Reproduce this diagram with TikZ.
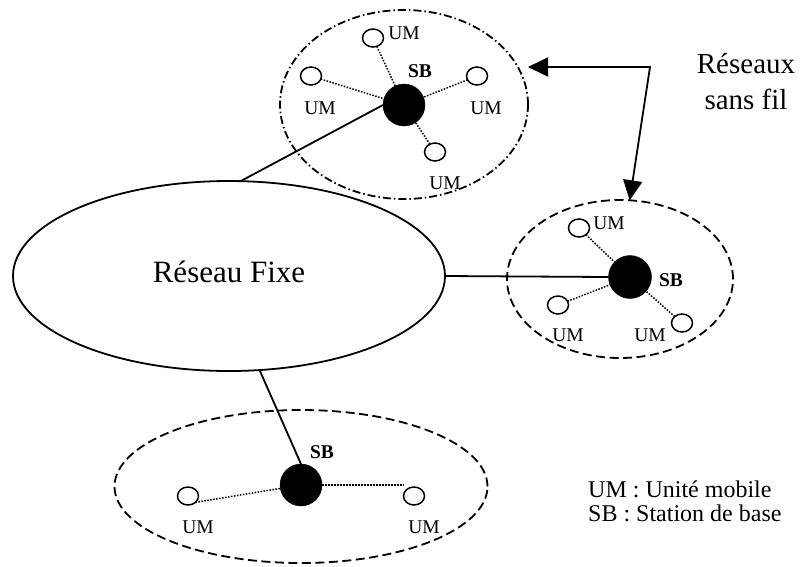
\documentclass[tikz,border=0pt]{standalone}
\usepackage{fontspec}
\setmainfont{Liberation Serif}
\usetikzlibrary{arrows.meta,shapes.geometric}
\begin{document}
\begin{tikzpicture}[x=1pt,y=-1pt,
  net/.style={ellipse, draw, line width=1.8pt, inner sep=0pt, outer sep=0pt},
  cell/.style={ellipse, draw, line width=1.8pt, dash pattern=on 9pt off 4.5pt, inner sep=0pt, outer sep=0pt},
  cellalt/.style={cell, dash pattern=on 8pt off 3pt on 1.5pt off 3pt},
  station/.style={circle, fill=black, draw=black, minimum size=42pt, inner sep=0pt, outer sep=0pt},
  mobile/.style={ellipse, draw, line width=1.5pt, minimum width=21pt, minimum height=18pt, inner sep=0pt, outer sep=0pt},
  lbl/.style={font=\fontsize{19.5}{23}\selectfont, inner sep=0pt},
  sblbl/.style={font=\fontsize{19.5}{23}\selectfont\bfseries, inner sep=0pt},
  wired/.style={line width=1.8pt},
  radio/.style={line width=1.5pt, dash pattern=on 1.5pt off 1.5pt},
  pointer/.style={line width=1.8pt, {Triangle[length=20pt,width=19pt]}-{Triangle[length=20pt,width=19pt]}}
]
\useasboundingbox (0,0) rectangle (805,566);

% fixed network
\node[net, minimum width=432pt, minimum height=190pt] (fixe) at (229,276) {};
\node[font=\fontsize{31}{36}\selectfont, anchor=base, inner sep=0pt] (fixelbl) at (229,282) {Réseau Fixe};

% upper cell
\node[cellalt, minimum width=248pt, minimum height=189pt] (ct) at (404,104.5) {};
\node[station] (sbt) at (404,105) {};
\node[mobile] (umt1) at (373,38) {};
\node[mobile] (umt2) at (311,76) {};
\node[mobile] (umt3) at (477,76) {};
\node[mobile] (umt4) at (435,152) {};
\node[lbl] (lumt1) at (404,33) {UM};
\node[lbl] (lumt2) at (320,108) {UM};
\node[lbl] (lumt3) at (486,108) {UM};
\node[lbl] (lumt4) at (445,183) {UM};
\node[sblbl] (lsbt) at (420,71) {SB};
\foreach \m in {umt1,umt2,umt3,umt4} \draw[radio] (\m) -- (sbt);

% right cell
\node[cell, minimum width=226pt, minimum height=158pt] (cr) at (620,279) {};
\node[station, minimum size=43pt] (sbr) at (630,277) {};
\node[mobile] (umr1) at (579,228) {};
\node[mobile] (umr2) at (558,305) {};
\node[mobile] (umr3) at (682,323) {};
\node[lbl] (lumr1) at (609,223) {UM};
\node[lbl] (lumr2) at (568,335) {UM};
\node[lbl] (lumr3) at (650,335) {UM};
\node[sblbl] (lsbr) at (671,280) {SB};
\foreach \m in {umr1,umr2,umr3} \draw[radio] (\m) -- (sbr);

% lower cell
\node[cell, minimum width=373pt, minimum height=153pt] (cb) at (301,486.5) {};
\node[station] (sbb) at (301,485) {};
\node[mobile] (umb1) at (188,496) {};
\node[mobile] (umb2) at (414,496) {};
\node[lbl] (lumb1) at (198,527) {UM};
\node[lbl] (lumb2) at (424,527) {UM};
\node[sblbl] (lsbb) at (322,452) {SB};
\draw[radio] (umb1.south east) -- (sbb);
\draw[radio] (sbb.east) -- (sbb.east -| umb2.west);

% wired links to the fixed network
\draw[wired] (fixe.83) -- (sbt.west);
\draw[wired] (fixe.east) -- (sbr.west);
\draw[wired] (fixe.-72) -- (sbb.north);

% wireless networks pointer
\coordinate (bend) at (650,67);
\draw[pointer] (ct.east |- bend) -- (bend) -- (cr.83);
\node[font=\fontsize{29}{36.5}\selectfont, align=center, anchor=north, inner sep=0pt] (wl) at (746,53) {Réseaux\\sans fil};

% legend
\node[font=\fontsize{24}{24}\selectfont, anchor=base west, inner sep=0pt] (leg1) at (588,497) {UM : Unité mobile};
\node[font=\fontsize{24}{24}\selectfont, anchor=base west, inner sep=0pt] (leg2) at (588,521) {SB : Station de base};
\end{tikzpicture}
\end{document}
